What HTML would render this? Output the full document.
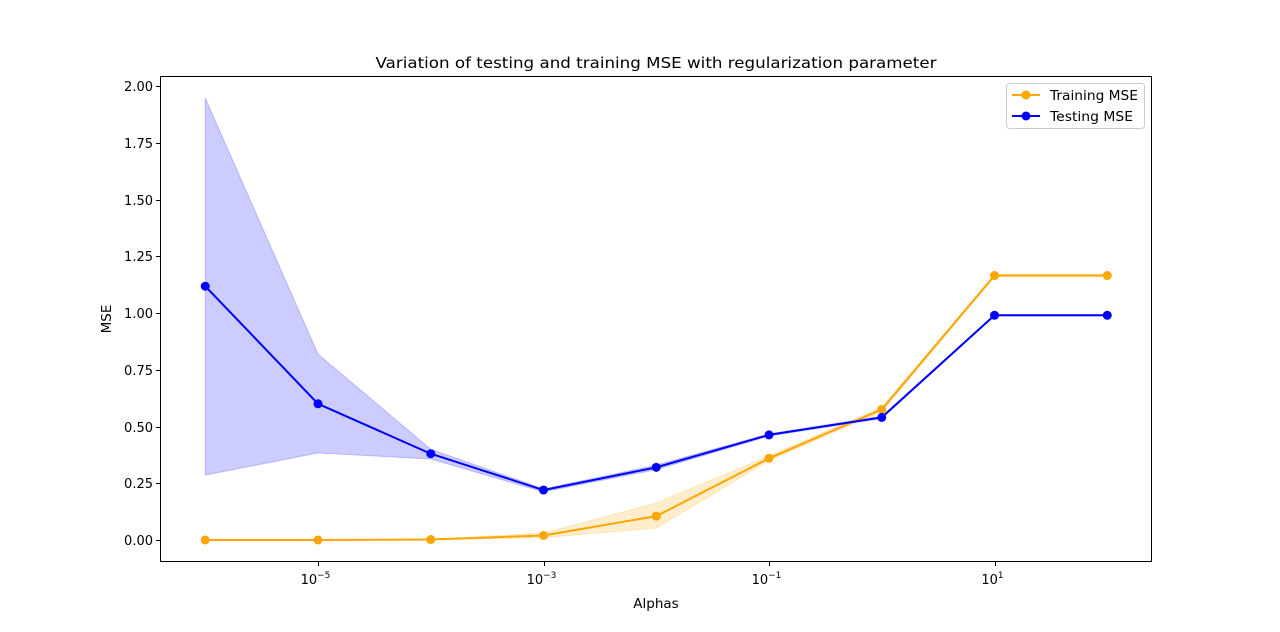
<!DOCTYPE html>
<html><head><meta charset="utf-8"><style>
body{margin:0;background:#fff;}
svg{display:block;font-family:"DejaVu Sans","Liberation Sans",sans-serif;}
</style></head><body>
<svg id="chart" width="1280" height="632" viewBox="0 0 1280 632">
<rect x="0" y="0" width="1280" height="632" fill="#fff"/>
<text x="656" y="68" font-size="15" text-anchor="middle" textLength="561" lengthAdjust="spacingAndGlyphs">Variation of testing and training MSE with regularization parameter</text>
<g id="bands"></g><g id="lines"></g><g id="axes"></g>
<text x="656" y="608" font-size="13.5" text-anchor="middle">Alphas</text>
<text x="111" y="319" font-size="13.5" text-anchor="middle" transform="rotate(-90 111 319)">MSE</text>
<g>
<rect x="1006.5" y="83.5" width="138" height="45" rx="3" fill="#fff" stroke="#ccc"/>
<g><line x1="1012" y1="95" x2="1040" y2="95" stroke="orange" stroke-width="2"/><circle cx="1026" cy="95" r="4.5" fill="orange"/><text x="1050" y="100" font-size="13" textLength="88" lengthAdjust="spacingAndGlyphs">Training MSE</text></g>
<g><line x1="1012" y1="116" x2="1040" y2="116" stroke="blue" stroke-width="2"/><circle cx="1026" cy="116" r="4.5" fill="blue"/><text x="1050" y="121" font-size="13" textLength="83" lengthAdjust="spacingAndGlyphs">Testing MSE</text></g>
</g>
</svg>
<script>
const alphaExp=[-6,-5,-4,-3,-2,-1,0,1,2];
const trainMSE=[0.0,0.0,0.002,0.02,0.105,0.36,0.575,1.165,1.165];
const trainUpper=[0.0,0.0,0.004,0.03,0.163,0.37,0.585,1.17,1.17];
const trainLower=[0.0,0.0,0.0,0.01,0.053,0.35,0.565,1.16,1.16];
const testMSE=[1.118,0.60,0.38,0.22,0.32,0.463,0.54,0.99,0.99];
const testUpper=[1.947,0.819,0.40,0.225,0.33,0.468,0.545,0.993,0.993];
const testLower=[0.286,0.383,0.357,0.212,0.31,0.458,0.535,0.987,0.987];
const yTicks=[0,0.25,0.5,0.75,1,1.25,1.5,1.75,2];
const xTickExp=[-5,-3,-1,1];
const L=160,R=1152,T=76,B=562;
const x=e=>543.5+(e+3)*112.75;
const y=v=>540-v*227;
const NS="http://www.w3.org/2000/svg";
function mk(tag,attrs,parent){const el=document.createElementNS(NS,tag);for(const k in attrs)el.setAttribute(k,attrs[k]);parent.appendChild(el);return el;}
const bands=document.getElementById('bands'),lines=document.getElementById('lines'),axes=document.getElementById('axes');
function band(up,lo,col,name){
 let pts=alphaExp.map((e,i)=>x(e)+","+y(up[i]));
 pts=pts.concat(alphaExp.map((e,i)=>x(e)+","+y(lo[i])).reverse());
 const p=mk('polygon',{points:pts.join(" "),fill:col,'fill-opacity':0.2,stroke:col,'stroke-opacity':0.2},bands);
 
 
}
band(testUpper,testLower,'blue','testing-band');
band(trainUpper,trainLower,'orange','training-band');
function series(vals,col,name){
 const g=mk('g',{},lines);
 
 
 mk('polyline',{points:alphaExp.map((e,i)=>x(e)+","+y(vals[i])).join(" "),fill:'none',stroke:col,'stroke-width':2},g);
 alphaExp.forEach((e,i)=>{const c=mk('circle',{cx:x(e),cy:y(vals[i]),r:4.5,fill:col},g);
  
  });
}
series(trainMSE,'orange','training-line');
series(testMSE,'blue','testing-line');
const frame=mk('rect',{x:L+0.5,y:T+0.5,width:R-L-1,height:B-T-1,fill:'none',stroke:'#000','stroke-width':1},axes);


yTicks.forEach(v=>{const yy=Math.round(y(v))+0.5;
 mk('line',{x1:L-4,y1:yy,x2:L,y2:yy,stroke:'#000'},axes);
 const t=mk('text',{x:L-7,y:yy+4.5,'font-size':13,'text-anchor':'end'},axes);t.textContent=v.toFixed(2);
 
 });
xTickExp.forEach(e=>{const xx=Math.round(x(e))+0.5;
 mk('line',{x1:xx,y1:B,x2:xx,y2:B+4,stroke:'#000'},axes);
 const t=mk('text',{x:xx-3,y:B+22,'font-size':13,'text-anchor':'middle'},axes);
 t.textContent='10';
 const s=mk('tspan',{dy:-6,'font-size':9},t);s.textContent='−'.repeat(e<0?1:0)+Math.abs(e);
 
 });
</script>
</body></html>
